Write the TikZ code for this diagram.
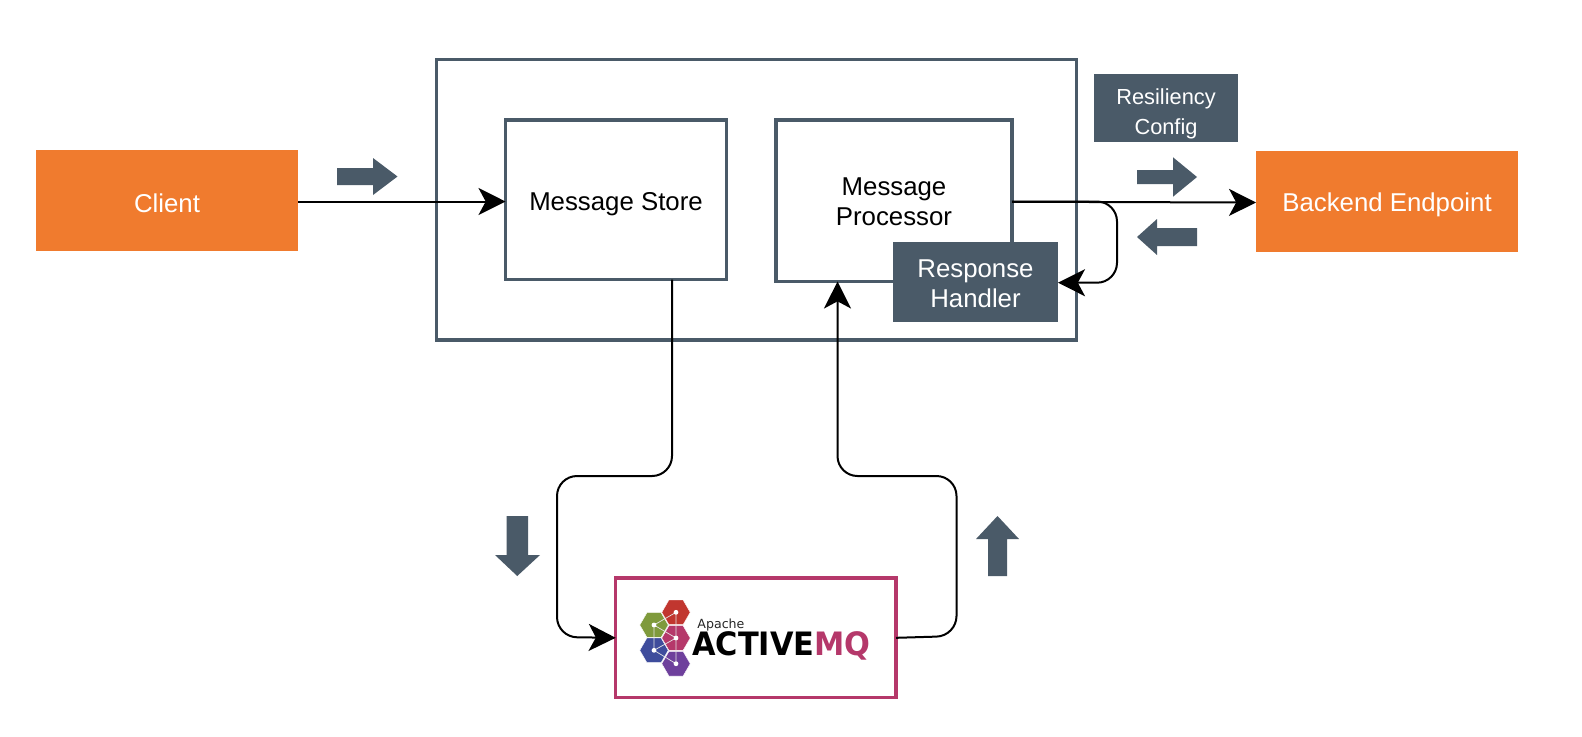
\documentclass[tikz,border=0pt]{standalone}
\usepackage{fontspec}
\setmainfont{Liberation Sans}
\newfontfamily\logofont{DejaVu Sans}
\usetikzlibrary{arrows.meta}
\definecolor{slate}{HTML}{4A5A68}
\definecolor{amber}{HTML}{F07B2E}
\definecolor{amqrose}{HTML}{B5386A}
\definecolor{amqred}{HTML}{C1362F}
\definecolor{amqgreen}{HTML}{7F9A3C}
\definecolor{amqblue}{HTML}{3E4C9C}
\definecolor{amqpurple}{HTML}{6E409C}
\newcommand{\hexa}[2]{\fill[#2,draw=white,line width=.2pt] (#1) +(0:14.2) -- +(60:14.2) -- +(120:14.2) -- +(180:14.2) -- +(240:14.2) -- +(300:14.2) -- cycle;}
\newcommand{\drop}[1]{\rule{0pt}{#1}}
\tikzset{
  x=.5pt,y=-.5pt,
  box/.style={draw=slate,line width=1.65pt,fill=white,inner sep=0pt,outer sep=0pt,align=center,font=\fontsize{12.9}{15}\selectfont},
  orangebox/.style={fill=amber,text=white,inner sep=0pt,outer sep=0pt,minimum width=131pt,minimum height=50.5pt,font=\fontsize{12.9}{15}\selectfont},
  slatebox/.style={fill=slate,text=white,inner sep=0pt,outer sep=0pt,align=center},
  flow/.style={draw=black,line width=1pt,rounded corners=10pt,-{Stealth[length=13.5pt,width=13.5pt,inset=3.6pt]}},
  blockarrow/.style={fill=slate,draw=none},
  wire/.style={white!90!black,line width=.35pt},
  dot/.style={fill=white,draw=none}
}
\begin{document}
\begin{tikzpicture}
\useasboundingbox[fill=white] (0,0) rectangle (1582,736);
% containers
\node[box,minimum width=320pt,minimum height=140.25pt] (outer) at (756.5,199.75) {};
\node[box,minimum width=110.5pt,minimum height=79.75pt] (store) at (616,199.75) {\drop{13.4pt}Message Store};
\node[box,minimum width=118pt,minimum height=80.75pt] (proc) at (894,200.75) {\drop{9.4pt}Message\\Processor};
\node[slatebox,minimum width=82.5pt,minimum height=40pt,font=\fontsize{12.9}{15}\selectfont] (handler) at (975.5,282) {\drop{10.9pt}Response\\Handler};
\node[slatebox,minimum width=72pt,minimum height=33.85pt,font=\fontsize{10.9}{15}\selectfont] (config) at (1166,107.85) {\drop{14pt}Resiliency\\Config};
\node[orangebox] (client) at (167,200.5) {\drop{12.4pt}Client};
\node[orangebox] (backend) at (1387,201.5) {\drop{12.4pt}Backend Endpoint};
\node[draw=amqrose,line width=1.65pt,fill=white,inner sep=0pt,outer sep=0pt,minimum width=140.15pt,minimum height=59.8pt] (amq) at (755.85,637.8) {};
% logo
\coordinate (hr) at (676,612.3);
\coordinate (hg) at (654,625);
\coordinate (hc) at (676,638);
\coordinate (hb) at (654,650.3);
\coordinate (hp) at (676,663.7);
\hexa{hr}{amqred}
\hexa{hc}{amqrose}
\hexa{hp}{amqpurple}
\hexa{hg}{amqgreen}
\hexa{hb}{amqblue}
\draw[wire] (hr) -- (hc) -- (hp) -- (hb) -- (hc) -- (hg) -- (hr) (hg) -- (hb);
\foreach \c in {hr,hg,hc,hb,hp} \fill[dot] (\c) circle (2.4);
\node[anchor=base west,inner sep=0pt,font=\logofont\fontsize{6.3}{7}\selectfont,text=black!85] (apache) at (697,628) {Apache};
\node[anchor=base west,inner sep=0pt,font=\logofont\bfseries\fontsize{15.2}{16}\selectfont] (logotext) at (692,655) {\scalebox{1}[1.06]{ACTIVE\textcolor{amqrose}{MQ}}};
% block arrows
\fill[blockarrow] (337,168) -- (373,168) -- (373,158) -- (397.5,176.5) -- (373,195) -- (373,185) -- (337,185) -- cycle;
\fill[blockarrow] (1137,170) -- (1173,170) -- (1173,157.3) -- (1197,177) -- (1173,196.7) -- (1173,184) -- (1137,184) -- cycle;
\fill[blockarrow] (1197,228) -- (1157,228) -- (1157,219) -- (1137,237) -- (1157,255) -- (1157,246) -- (1197,246) -- cycle;
\fill[blockarrow] (506.5,516) -- (528,516) -- (528,555) -- (540,555) -- (517.25,576) -- (495,555) -- (506.5,555) -- cycle;
\fill[blockarrow] (988,576) -- (1007,576) -- (1007,539) -- (1019,539) -- (997.5,516) -- (976,539) -- (988,539) -- cycle;
% connectors
\coordinate (fbtop) at (1117,201.5);
\coordinate (fbbot) at (1117,282.7);
\coordinate (s1) at (672,476);
\coordinate (s2) at (557,476);
\coordinate (s3) at (557,637);
\coordinate (r1) at (956.5,636);
\coordinate (r2) at (956.5,476);
\coordinate (r3) at (837.5,476);
\draw[flow] ([yshift=-.5pt]client.east) -- ([yshift=-.5pt]client.east -| store.west);
\draw[flow] ([yshift=-.5pt]proc.east) -- ([yshift=-.5pt]backend.west);
\draw[flow] (proc.east |- fbtop) -- (fbtop) -- (fbbot) -- (handler.east |- fbbot);
\draw[flow] (s1 |- store.south) -- (s1) -- (s2) -- (s3) -- (amq.west);
\draw[flow] (amq.east) -- (r1) -- (r2) -- (r3) -- (r3 |- proc.south);
\end{tikzpicture}
\end{document}
